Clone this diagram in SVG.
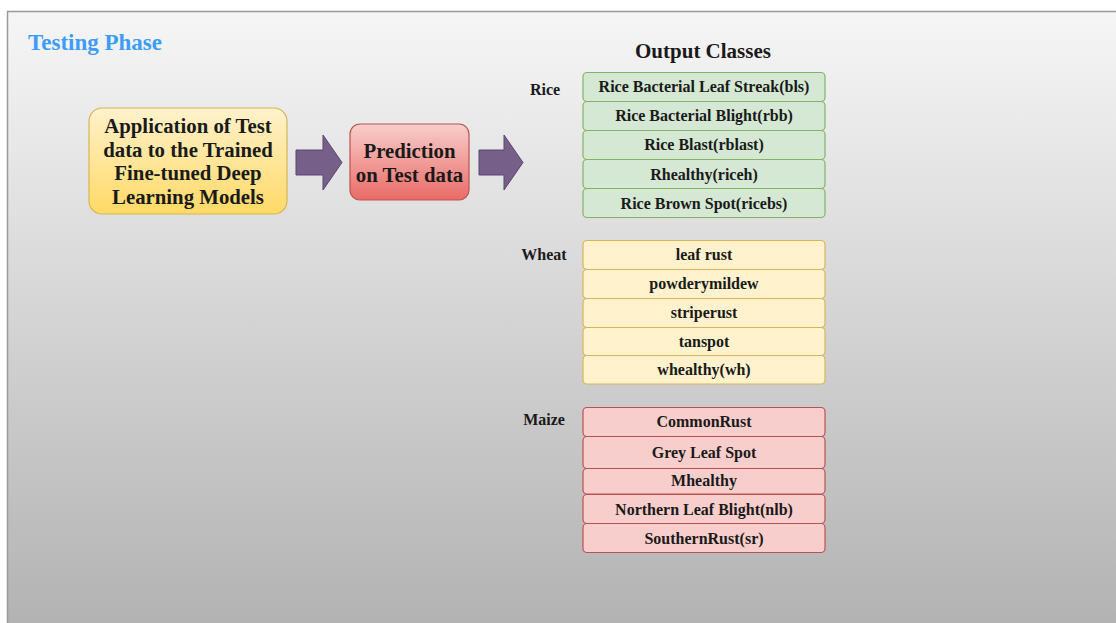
<svg xmlns="http://www.w3.org/2000/svg" width="1116" height="623" viewBox="0 0 1116 623">
  <defs>
    <linearGradient id="bg" x1="0" y1="0" x2="0" y2="1">
      <stop offset="0" stop-color="#f6f6f6"/>
      <stop offset="1" stop-color="#b2b2b2"/>
    </linearGradient>
    <linearGradient id="gYellow" x1="0" y1="0" x2="0" y2="1">
      <stop offset="0" stop-color="#fff2cc"/>
      <stop offset="1" stop-color="#ffd966"/>
    </linearGradient>
    <linearGradient id="gRed" x1="0" y1="0" x2="0" y2="1">
      <stop offset="0" stop-color="#f8cecc"/>
      <stop offset="1" stop-color="#ea6b66"/>
    </linearGradient>
  </defs>
  <style>
    text { font-family: "Liberation Serif", "Times New Roman", serif; font-weight: bold; fill: #1a1a1a; }
    .title { font-size: 23px; fill: #3d9cf5; }
    .head { font-size: 21px; }
    .big { font-size: 20.8px; text-anchor: middle; }
    .grp { font-size: 16px; text-anchor: middle; }
    .cls { font-size: 16px; text-anchor: middle; }
    .green { fill: #d5e8d4; stroke: #82b366; stroke-width: 1.2; }
    .yellow { fill: #fff2cc; stroke: #d6b656; stroke-width: 1.2; }
    .red { fill: #f8cecc; stroke: #b85450; stroke-width: 1.2; }
    .arrow { fill: #76608a; stroke: #5a4670; stroke-width: 1; }
  </style>

  <!-- panel background -->
  <rect x="7.5" y="11.5" width="1112" height="616" fill="url(#bg)" stroke="#9a9a9a" stroke-width="1.5"/>

  <text class="title" x="28" y="50">Testing Phase</text>

  <!-- input node -->
  <g id="node-input">
    <rect x="89" y="108" width="198" height="106" rx="13" ry="13" fill="url(#gYellow)" stroke="#d6b656" stroke-width="1.2"/>
    <text class="big" x="188" y="133">Application of Test</text>
    <text class="big" x="188" y="157">data to the Trained</text>
    <text class="big" x="188" y="180">Fine-tuned Deep</text>
    <text class="big" x="188" y="204">Learning Models</text>
  </g>

  <!-- prediction node -->
  <g id="node-prediction">
    <rect x="350" y="124" width="119" height="76" rx="10" ry="10" fill="url(#gRed)" stroke="#b85450" stroke-width="1.2"/>
    <text class="big" x="409.5" y="158">Prediction</text>
    <text class="big" x="409.5" y="182">on Test data</text>
  </g>

  <!-- connectors -->
  <g id="connectors">
    <path class="arrow" d="M296,150 H323 V135 L342,162.5 L323,190 V175 H296 Z"/>
    <path class="arrow" d="M479,150 H504 V135 L523,162.5 L504,190 V175 H479 Z"/>
  </g>

  <text class="head" x="703" y="58" text-anchor="middle">Output Classes</text>

  <!-- rice classes -->
  <g id="group-rice">
    <text class="grp" x="545" y="95">Rice</text>
    <rect class="green" x="583" y="72.5" width="242" height="29" rx="4"/>
    <text class="cls" x="704" y="92">Rice Bacterial Leaf Streak(bls)</text>
    <rect class="green" x="583" y="101.5" width="242" height="29" rx="4"/>
    <text class="cls" x="704" y="121">Rice Bacterial Blight(rbb)</text>
    <rect class="green" x="583" y="130.5" width="242" height="29" rx="4"/>
    <text class="cls" x="704" y="150">Rice Blast(rblast)</text>
    <rect class="green" x="583" y="159.5" width="242" height="29" rx="4"/>
    <text class="cls" x="704" y="180">Rhealthy(riceh)</text>
    <rect class="green" x="583" y="188.5" width="242" height="29" rx="4"/>
    <text class="cls" x="704" y="209">Rice Brown Spot(ricebs)</text>
  </g>

  <!-- wheat classes -->
  <g id="group-wheat">
    <text class="grp" x="544" y="260">Wheat</text>
    <rect class="yellow" x="583" y="240.5" width="242" height="29" rx="4"/>
    <text class="cls" x="704" y="260">leaf rust</text>
    <rect class="yellow" x="583" y="269.5" width="242" height="29" rx="4"/>
    <text class="cls" x="704" y="289">powderymildew</text>
    <rect class="yellow" x="583" y="298.5" width="242" height="29" rx="4"/>
    <text class="cls" x="704" y="318">striperust</text>
    <rect class="yellow" x="583" y="327.5" width="242" height="28" rx="4"/>
    <text class="cls" x="704" y="347">tanspot</text>
    <rect class="yellow" x="583" y="355.5" width="242" height="28.5" rx="4"/>
    <text class="cls" x="704" y="375">whealthy(wh)</text>
  </g>

  <!-- maize classes -->
  <g id="group-maize">
    <text class="grp" x="544" y="425">Maize</text>
    <rect class="red" x="583" y="407.5" width="242" height="29" rx="4"/>
    <text class="cls" x="704" y="427">CommonRust</text>
    <rect class="red" x="583" y="436.5" width="242" height="32" rx="4"/>
    <text class="cls" x="704" y="458">Grey Leaf Spot</text>
    <rect class="red" x="583" y="468.5" width="242" height="25.5" rx="4"/>
    <text class="cls" x="704" y="486">Mhealthy</text>
    <rect class="red" x="583" y="494.5" width="242" height="29" rx="4"/>
    <text class="cls" x="704" y="515">Northern Leaf Blight(nlb)</text>
    <rect class="red" x="583" y="523.5" width="242" height="29" rx="4"/>
    <text class="cls" x="704" y="544">SouthernRust(sr)</text>
  </g>
</svg>
